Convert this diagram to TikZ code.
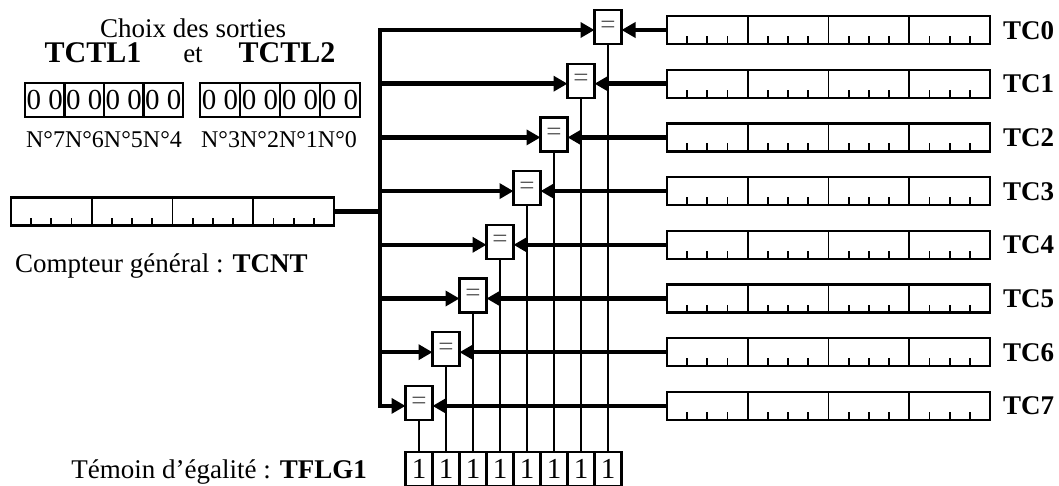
\documentclass[tikz,border=0pt]{standalone}
\usepackage{fontspec}
\setmainfont{Liberation Serif}
\usetikzlibrary{arrows.meta, positioning, calc}

% segments and small ticks of a 16-bit register
\newcommand{\regmarks}[1]{%
  \foreach \k in {4,8,12}
    \draw[regline] ($(#1.south west)!\k/16!(#1.south east)$) -- ($(#1.north west)!\k/16!(#1.north east)$);
  \foreach \k in {1,2,3,5,6,7,9,10,11,13,14,15}
    \draw[regline] ($(#1.south west)!\k/16!(#1.south east)$) -- ++(0,-8);
}

\begin{document}
\begin{tikzpicture}[x=1pt, y=-1pt,
    reg/.style={draw, line width=2.2pt, minimum width=323pt, minimum height=28pt, inner sep=0pt, outer sep=0pt},
    regline/.style={line width=1.8pt},
    cmp/.style={draw, line width=2.2pt, fill=white, minimum width=27pt, minimum height=34pt, inner sep=0pt,
      outer sep=0pt, font=\fontsize{27}{27}\selectfont\color{black!65}},
    cell/.style={draw, line width=2.2pt, minimum width=40pt, minimum height=34pt, inner sep=0pt, outer sep=0pt,
      font=\fontsize{29}{29}\selectfont},
    flag/.style={cell, minimum width=27pt},
    bus/.style={line width=4.5pt, -{Triangle[length=14pt, width=15pt]}},
    wire/.style={line width=2pt},
    lbl/.style={font=\fontsize{27}{30}\selectfont, inner sep=0pt},
    bigbold/.style={font=\fontsize{30}{30}\selectfont\bfseries, inner sep=0pt, anchor=base},
    numlbl/.style={font=\fontsize{24}{26}\selectfont, inner sep=0pt, anchor=base},
    tclbl/.style={font=\fontsize{27}{27}\selectfont\bfseries, anchor=base west, inner sep=0pt}
  ]
  \useasboundingbox (0,0) rectangle (1059,485);

  % output selection
  \node[lbl, anchor=base] (choix) at (193,37) {Choix des sorties};
  \node[bigbold] (tctl1) at (93,62) {TCTL1};
  \node[lbl, anchor=base] (et) at (193,62) {et};
  \node[bigbold] (tctl2) at (287,62) {TCTL2};
  \foreach \k in {0,...,3} {
    \node[cell, minimum width=39.5pt] (ctla\k) at (44.75+39.5*\k,100) {0 0};
    \node[cell] (ctlb\k) at (220+40*\k,100) {0 0};
  }
  \node[numlbl] (numa) at (104,147) {N°7N°6N°5N°4};
  \node[numlbl] (numb) at (279,147) {N°3N°2N°1N°0};

  % general counter
  \node[reg] (tcnt) at (172.5,211.5) {};
  \regmarks{tcnt}
  \node[lbl, anchor=base west] (tcntlbl) at (15,272) {Compteur général : \textbf{TCNT}};

  % equality flags
  \foreach \k in {0,...,7}
    \node[flag] (f\k) at (419+27*\k,469) {1};
  \node[lbl, anchor=base east] (tflglbl) at (367,478) {Témoin d’égalité : \textbf{TFLG1}};

  % compare registers and comparators
  \foreach \i [evaluate=\i as \yy using 30+53.7*\i, evaluate=\i as \xx using 608-27*\i,
      evaluate=\i as \k using int(7-\i)] in {0,...,7} {
    \coordinate (r\i) at (380,\yy);
    \node[reg] (tc\i) at (828.5,\yy) {};
    \regmarks{tc\i}
    \node[tclbl] (tclbl\i) at (1003,\yy+9) {TC\i};
    \node[cmp] (c\i) at (\xx,\yy-3) {=};
    \draw[wire] (c\i.south) -- (f\k.north);
    \draw[bus] (r\i) -- (c\i.west |- r\i);
    \draw[bus] (tc\i.west) -- (c\i.east |- r\i);
  }
  \draw[line width=4.5pt, line cap=rect] (r0) -- (r7);
  \draw[line width=4.5pt] (tcnt.east) -- (tcnt.east -| r0);
\end{tikzpicture}
\end{document}
